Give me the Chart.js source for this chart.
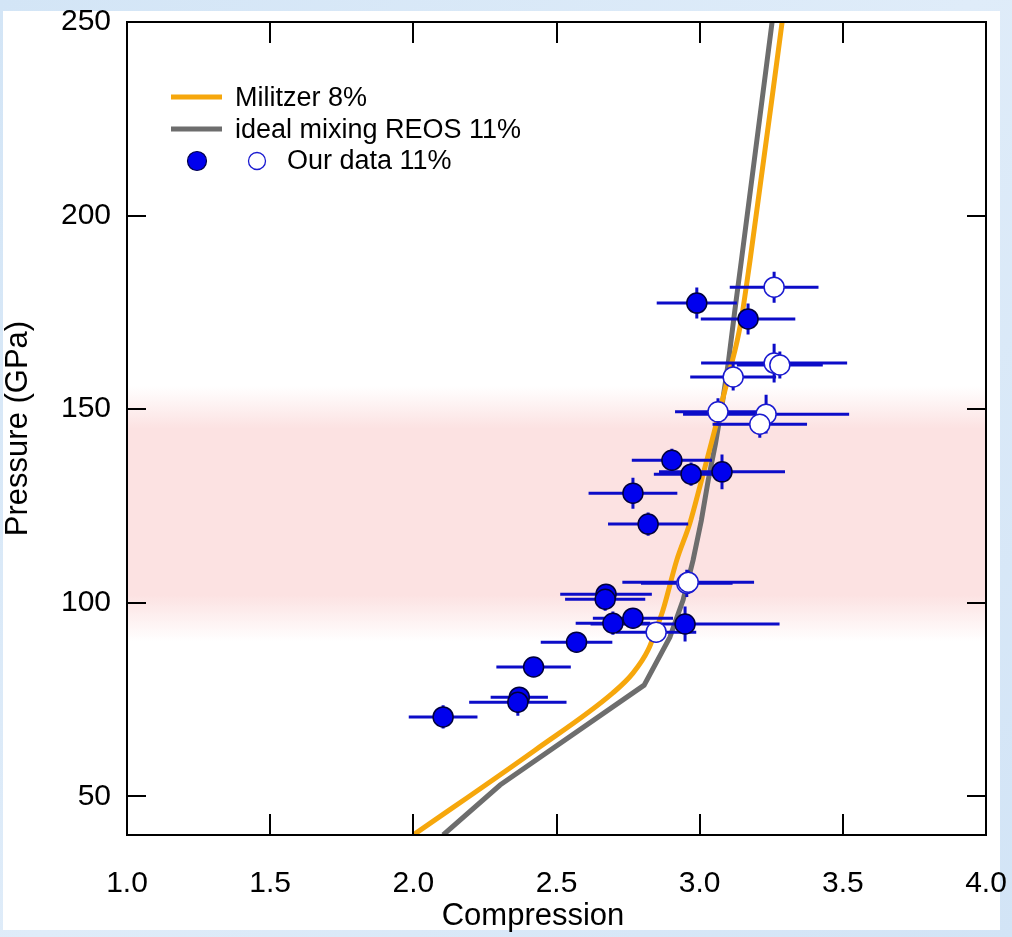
<!DOCTYPE html>
<html>
<head>
<meta charset="utf-8">
<script src="https://cdn.jsdelivr.net/npm/chart.js@4.4.1/dist/chart.umd.min.js"></script>
<style>
  html, body { margin: 0; padding: 0; }
  body { width: 1012px; height: 937px; background: linear-gradient(135deg, #d3e5f6 0%, #dfecf9 50%, #d2e4f6 100%); overflow: hidden; }
  #wrap { position: absolute; left: 0; top: 0; width: 1012px; height: 937px; }
</style>
</head>
<body>
<div id="wrap"><canvas id="c" width="1012" height="937"></canvas></div>
<script>
// Axis ticks
const X_TICKS = [1.0, 1.5, 2.0, 2.5, 3.0, 3.5, 4.0];
const Y_TICKS = [50, 100, 150, 200, 250];

// Militzer 8% curve
const militzerX = [2.000, 2.425, 2.697, 2.767, 2.820, 2.851, 2.872, 2.920, 2.966, 3.000, 3.040, 3.077, 3.106, 3.141, 3.176, 3.288];
const militzerY = [40, 61.9, 76.7, 81.8, 87.8, 93.7, 98.1, 111.0, 120.6, 129.8, 141.0, 151.6, 160.1, 171.3, 188.5, 250];

// ideal mixing REOS 11% curve
const reosX = [2.104, 2.303, 2.806, 2.896, 2.942, 2.977, 3.006, 3.030, 3.055, 3.078, 3.100, 3.122, 3.145, 3.253];
const reosY = [40, 52.9, 78.7, 91.1, 100.7, 111, 121.3, 131.7, 141, 151, 162, 175, 188, 250];

// Our data 11% (filled symbols)
const filledX    = [2.104, 2.37, 2.365, 2.42, 2.57, 2.673, 2.67, 2.697, 2.767, 2.949, 2.767, 2.82, 2.903, 2.97, 3.078, 2.99, 3.169];
const filledY    = [70.5, 75.6, 74.3, 83.4, 89.8, 102.2, 100.9, 94.7, 96.0, 94.5, 128.3, 120.3, 136.8, 133.2, 133.8, 177.4, 173.3];
const filledXErr = [0.12, 0.10, 0.17, 0.13, 0.125, 0.16, 0.14, 0.13, 0.14, 0.33, 0.155, 0.14, 0.14, 0.13, 0.22, 0.14, 0.165];
const filledYErr = [3, 2.5, 3.5, 2.5, 2, 2.5, 3, 3, 2.5, 4.5, 4, 3, 3, 3, 4.5, 4, 4];

// Our data 11% (open symbols)
const openX    = [2.848, 2.955, 2.96, 3.26, 3.26, 3.28, 3.117, 3.064, 3.232, 3.21];
const openY    = [92.4, 105.0, 105.3, 181.5, 161.9, 161.4, 158.3, 149.3, 148.7, 146.1];
const openXErr = [0.14, 0.16, 0.23, 0.155, 0.255, 0.15, 0.15, 0.15, 0.29, 0.165];
const openYErr = [2, 3.5, 3, 4, 5, 3.5, 3.5, 3.5, 5, 3.5];

// Shaded pressure band (GPa): fades in from the outer to the inner limits
const BAND_OUTER_LOW = 90, BAND_INNER_LOW = 102;
const BAND_INNER_HIGH = 145, BAND_OUTER_HIGH = 156;

const LABELS = ['Militzer 8%', 'ideal mixing REOS 11%', 'Our data 11%'];

const zip = (xs, ys) => xs.map((x, i) => ({ x, y: ys[i] }));

const FONT = '"Liberation Sans", Arial, Helvetica, sans-serif';
const ORANGE = '#f6a70c';
const GREY = '#6d6d6d';
const BLUE = '#0000ee';
const BAR_BLUE = '#0c0cc8';

const decor = {
  id: 'decor',
  beforeDraw(chart) {
    const ctx = chart.ctx;
    ctx.save();
    ctx.fillStyle = '#ffffff';
    ctx.fillRect(3, 11, 997, 919);
    ctx.restore();
  },
  beforeDatasetsDraw(chart) {
    const { ctx, chartArea: a, scales: { y } } = chart;
    const yTop = y.getPixelForValue(BAND_OUTER_HIGH);
    const yBot = y.getPixelForValue(BAND_OUTER_LOW);
    const h = yBot - yTop;
    const g = ctx.createLinearGradient(0, yTop, 0, yBot);
    const pink = 'rgba(252,226,226,';
    g.addColorStop(0, pink + '0)');
    g.addColorStop((y.getPixelForValue(BAND_INNER_HIGH) - yTop) / h, pink + '1)');
    g.addColorStop((y.getPixelForValue(BAND_INNER_LOW) - yTop) / h, pink + '1)');
    g.addColorStop(1, pink + '0)');
    ctx.save();
    ctx.fillStyle = g;
    ctx.fillRect(a.left, yTop, a.right - a.left, h);
    ctx.restore();
  },
  beforeDatasetDraw(chart, args) {
    if (args.index !== 1) return;
    const { ctx, scales: { x, y } } = chart;
    ctx.save();
    ctx.strokeStyle = BAR_BLUE;
    ctx.lineWidth = 3;
    const bars = (xs, ys, ex, ey) => {
      xs.forEach((xv, i) => {
        const px = x.getPixelForValue(xv), py = y.getPixelForValue(ys[i]);
        ctx.beginPath();
        ctx.moveTo(x.getPixelForValue(xv - ex[i]), py);
        ctx.lineTo(x.getPixelForValue(xv + ex[i]), py);
        ctx.moveTo(px, y.getPixelForValue(ys[i] + ey[i]));
        ctx.lineTo(px, y.getPixelForValue(ys[i] - ey[i]));
        ctx.stroke();
      });
    };
    bars(openX, openY, openXErr, openYErr);
    bars(filledX, filledY, filledXErr, filledYErr);
    ctx.restore();
  },
  afterDraw(chart) {
    const { ctx, chartArea: a, scales: { x, y } } = chart;
    ctx.save();
    // frame
    ctx.strokeStyle = '#000';
    ctx.lineWidth = 2;
    ctx.strokeRect(a.left, a.top, a.right - a.left, a.bottom - a.top);
    // inward ticks on all four sides
    ctx.beginPath();
    X_TICKS.forEach(v => {
      const px = Math.round(x.getPixelForValue(v));
      if (px <= a.left + 1 || px >= a.right - 1) return;
      ctx.moveTo(px, a.bottom); ctx.lineTo(px, a.bottom - 21);
      ctx.moveTo(px, a.top); ctx.lineTo(px, a.top + 21);
    });
    Y_TICKS.forEach(v => {
      const py = Math.round(y.getPixelForValue(v));
      if (py <= a.top + 1 || py >= a.bottom - 1) return;
      ctx.moveTo(a.left, py); ctx.lineTo(a.left + 19, py);
      ctx.moveTo(a.right, py); ctx.lineTo(a.right - 19, py);
    });
    ctx.stroke();

    // x axis title
    ctx.fillStyle = '#000';
    ctx.textBaseline = 'middle';
    ctx.textAlign = 'center';
    ctx.font = '31px ' + FONT;
    ctx.fillText('Compression', 533, 916);

    // legend
    ctx.lineWidth = 5;
    ctx.strokeStyle = ORANGE;
    ctx.beginPath(); ctx.moveTo(171, 97); ctx.lineTo(222, 97); ctx.stroke();
    ctx.strokeStyle = GREY;
    ctx.beginPath(); ctx.moveTo(171, 129); ctx.lineTo(222, 129); ctx.stroke();
    ctx.font = '27px ' + FONT;
    ctx.textAlign = 'left';
    ctx.fillText(LABELS[0], 235, 99);
    ctx.fillText(LABELS[1], 235, 131);
    ctx.fillText(LABELS[2], 287, 162);
    ctx.beginPath();
    ctx.arc(197, 161, 9.5, 0, Math.PI * 2);
    ctx.fillStyle = BLUE; ctx.fill();
    ctx.lineWidth = 1.2; ctx.strokeStyle = '#00004a'; ctx.stroke();
    ctx.beginPath();
    ctx.arc(257, 161, 8.5, 0, Math.PI * 2);
    ctx.fillStyle = '#fff'; ctx.fill();
    ctx.lineWidth = 1.3; ctx.strokeStyle = '#1a1ad0'; ctx.stroke();
    ctx.restore();
  }
};

new Chart(document.getElementById('c'), {
  type: 'scatter',
  data: {
    datasets: [
      {
        label: LABELS[2],
        data: zip(filledX, filledY),
        pointRadius: 10,
        backgroundColor: BLUE,
        borderColor: '#00003c',
        borderWidth: 1.5
      },
      {
        label: LABELS[2],
        data: zip(openX, openY),
        pointRadius: 10,
        backgroundColor: '#ffffff',
        borderColor: '#1a1ad0',
        borderWidth: 1.5
      },
      {
        label: LABELS[0],
        data: zip(militzerX, militzerY),
        showLine: true,
        pointRadius: 0,
        borderColor: ORANGE,
        borderWidth: 5,
        cubicInterpolationMode: 'monotone',
        fill: false
      },
      {
        label: LABELS[1],
        data: zip(reosX, reosY),
        showLine: true,
        pointRadius: 0,
        borderColor: GREY,
        borderWidth: 5,
        tension: 0,
        fill: false
      }
    ]
  },
  options: {
    responsive: false,
    animation: false,
    devicePixelRatio: 1,
    layout: { padding: { left: 0, right: 26, top: 22, bottom: 0 } },
    plugins: { legend: { display: false }, tooltip: { enabled: false } },
    scales: {
      x: {
        type: 'linear',
        min: 1, max: 4,
        afterBuildTicks: s => { s.ticks = X_TICKS.map(v => ({ value: v })); },
        afterFit: s => { s.height = 102; s.paddingLeft = 0; s.paddingRight = 0; },
        grid: { display: false, drawTicks: false },
        border: { display: false },
        ticks: {
          color: '#000',
          padding: 31,
          maxRotation: 0,
          autoSkip: false,
          font: { family: FONT, size: 30 },
          callback: v => Number(v).toFixed(1)
        }
      },
      y: {
        type: 'linear',
        min: 40, max: 250,
        afterBuildTicks: s => { s.ticks = Y_TICKS.map(v => ({ value: v })); },
        afterFit: s => { s.width = 127; s.paddingTop = 0; s.paddingBottom = 0; },
        grid: { display: false, drawTicks: false },
        border: { display: false },
        ticks: {
          color: '#000',
          padding: 16,
          font: { family: FONT, size: 30 },
          callback: v => String(v)
        },
        title: {
          display: true,
          text: 'Pressure (GPa)',
          color: '#000',
          padding: { top: 0, bottom: 0 },
          font: { family: FONT, size: 31 }
        }
      }
    }
  },
  plugins: [decor]
});
</script>
</body>
</html>
